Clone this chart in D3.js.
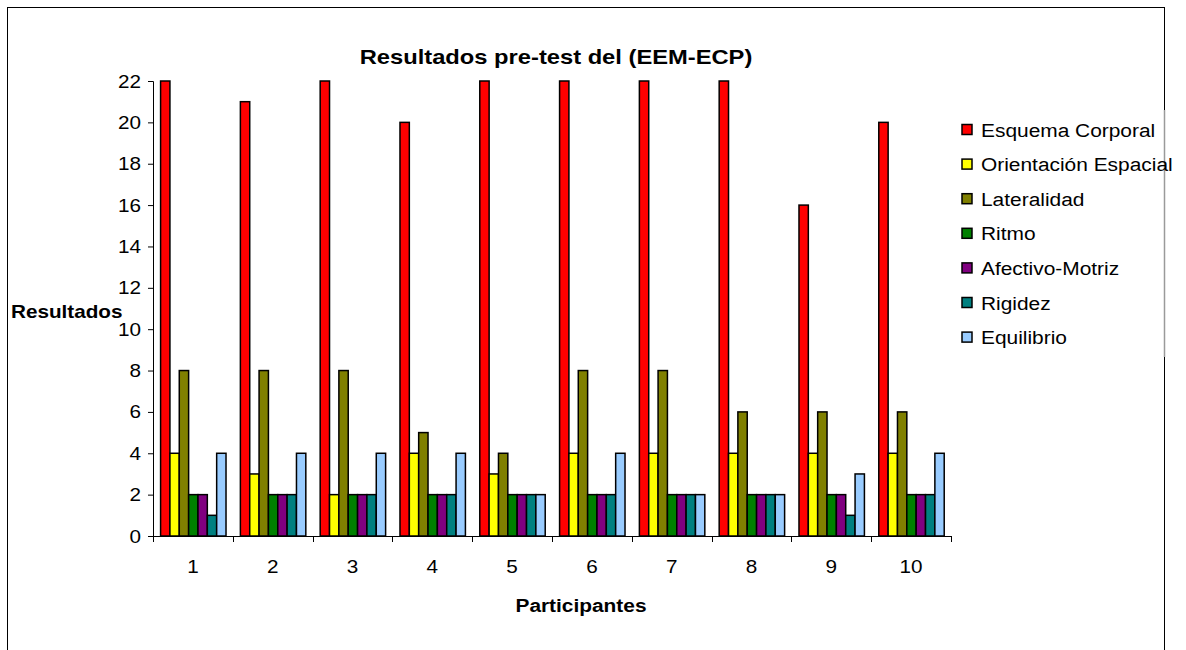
<!DOCTYPE html>
<html><head><meta charset="utf-8">
<script src="https://cdn.jsdelivr.net/npm/d3@7"></script>
<style>body{margin:0;background:#fff}svg{display:block}text{font-family:Arial,"Liberation Sans",sans-serif}</style>
</head><body><svg id="c" width="1186" height="650"></svg>
<script>
const categories = ["1","2","3","4","5","6","7","8","9","10"];
const seriesNames = ["Esquema Corporal","Orientación Espacial","Lateralidad","Ritmo","Afectivo-Motriz","Rigidez","Equilibrio"];
const seriesColors = ["#FF0000","#FFFF00","#808000","#008000","#800080","#008080","#99CCFF"];
const esquema = [22,21,22,20,22,22,22,22,16,20];
const orientacion = [4,3,2,4,3,4,4,4,4,4];
const lateralidad = [8,8,8,5,4,8,8,6,6,6];
const ritmo = [2,2,2,2,2,2,2,2,2,2];
const afectivo = [2,2,2,2,2,2,2,2,2,2];
const rigidez = [1,2,2,2,2,2,2,2,1,2];
const equilibrio = [4,4,4,4,2,4,2,2,3,4];
const yTicks = [0,2,4,6,8,10,12,14,16,18,20,22];
const seriesValues = [esquema,orientacion,lateralidad,ritmo,afectivo,rigidez,equilibrio];

const svg = d3.select("#c");
svg.append("rect").attr("x",7.5).attr("y",7.5).attr("width",1157).attr("height",660)
  .attr("fill","#fff").attr("stroke","#000").attr("stroke-width",1);
svg.append("line").attr("x1",1164.5).attr("x2",1164.5).attr("y1",110).attr("y2",357)
  .attr("stroke","#9a9a9a").attr("stroke-width",1.5);

function stxt(parent, x, y, str, size, sx, anchor, bold){
  return parent.append("text").attr("transform",`translate(${x},${y}) scale(${sx},1)`)
    .attr("text-anchor",anchor||"start").attr("font-size",size)
    .attr("font-weight",bold?"bold":"normal").attr("fill","#000").text(str);
}

const L=153, R=951, T=81, B=536;
const x0 = d3.scaleBand().domain(categories).range([L,R]);
const x1 = d3.scaleBand().domain(seriesNames).range([x0.bandwidth()*0.095, x0.bandwidth()*0.915]);
const y = d3.scaleLinear().domain([0,22]).range([B,T]);

const g = svg.append("g");
categories.forEach((c,i)=>{
  seriesNames.forEach((s,j)=>{
    g.append("rect").attr("x",x0(c)+x1(s)).attr("y",y(seriesValues[j][i]))
      .attr("width",x1.bandwidth()).attr("height",y(0)-y(seriesValues[j][i]))
      .attr("fill",seriesColors[j]).attr("stroke","#000").attr("stroke-width",1.5);
  });
});

// y axis
const ya = svg.append("g").attr("transform",`translate(${L},0)`)
  .call(d3.axisLeft(y).tickValues(yTicks).tickSize(5).tickFormat(""));
ya.select(".domain").attr("stroke","#000");
yTicks.forEach(t=>stxt(svg, 141, y(t)+6.5, String(t), 18, 1.15, "end"));

// x axis
const xa = svg.append("g").attr("transform",`translate(0,${B})`);
xa.append("line").attr("x1",L).attr("x2",R).attr("y1",0.5).attr("y2",0.5).attr("stroke","#000");
const bounds = categories.map(c=>x0(c)).concat([R]);
xa.selectAll("line.t").data(bounds).enter().append("line").attr("class","t")
  .attr("x1",d=>Math.round(d)+0.5).attr("x2",d=>Math.round(d)+0.5).attr("y1",0).attr("y2",6).attr("stroke","#000");
categories.forEach(c=>stxt(svg, x0(c)+x0.bandwidth()/2, 573, c, 18, 1.15, "middle"));

stxt(svg, 556, 64, "Resultados pre-test del (EEM-ECP)", 21, 1.13, "middle", true);
stxt(svg, 11, 318, "Resultados", 18, 1.15, "start", true);
stxt(svg, 581, 612, "Participantes", 18, 1.16, "middle", true);

// legend
const lg = svg.append("g");
seriesNames.forEach((s,j)=>{
  const yy = 129.5 + j*34.6;
  lg.append("rect").attr("x",962).attr("y",yy-5).attr("width",10).attr("height",10)
    .attr("fill",seriesColors[j]).attr("stroke","#000").attr("stroke-width",1.5);
  stxt(lg, 981, yy+7, s, 19, 1.1, "start");
});
</script></body></html>
